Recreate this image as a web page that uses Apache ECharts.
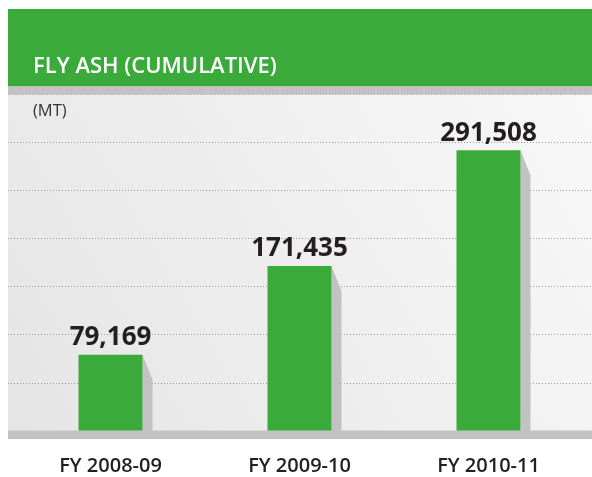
<!DOCTYPE html>
<html>
<head>
<meta charset="utf-8">
<script src="https://cdn.jsdelivr.net/npm/echarts@6/dist/echarts.min.js"></script>
<style>
  html, body { margin: 0; padding: 0; background: #ffffff; }
  #chart { width: 592px; height: 477px; }
</style>
</head>
<body>
<div id="chart"></div>
<script>
// Fly ash utilisation, cumulative, in metric tonnes
const categories = ['FY 2008-09', 'FY 2009-10', 'FY 2010-11'];
const flyAshValues = [79169, 171435, 291508];
const yTicks = [0, 50000, 100000, 150000, 200000, 250000, 300000, 350000];

const GREEN = '#3aab3b';
const STRIP = '#c2c2c2';
const BAR_W = 64;
const TOP = 94, BOTTOM = 46;

const chart = echarts.init(document.getElementById('chart'), null, { renderer: 'canvas' });

const yMin = yTicks[0];
const yMax = yTicks[yTicks.length - 1];
const yStep = yTicks[1] - yTicks[0];

chart.setOption({
  animation: false,
  grid: [
    // full-width grid carrying the dotted guide lines
    { left: 8, right: 0, top: TOP, bottom: BOTTOM },
    // inner grid holding the bars
    { left: 16, right: 9, top: TOP, bottom: BOTTOM }
  ],
  xAxis: [
    { gridIndex: 0, type: 'value', show: false, min: 0, max: 1 },
    {
      gridIndex: 1, type: 'category', data: categories,
      axisLine: { show: false }, axisTick: { show: false },
      axisLabel: {
        margin: 25, fontSize: 20, fontWeight: 600, color: '#231f20',
        fontFamily: 'Open Sans'
      }
    }
  ],
  yAxis: [
    {
      gridIndex: 0, type: 'value', min: yMin, max: yMax, interval: yStep,
      axisLine: { show: false }, axisTick: { show: false }, axisLabel: { show: false },
      splitLine: { lineStyle: { color: '#999999', width: 1, type: [1, 2] } }
    },
    {
      gridIndex: 1, type: 'value', min: yMin, max: yMax, interval: yStep,
      show: false, splitLine: { show: false }
    }
  ],
  graphic: [
    // header band
    { type: 'rect', z: 50, shape: { x: 8, y: 9, width: 584, height: 77 }, style: { fill: GREEN } },
    {
      type: 'text', z: 51, x: 33, y: 56,
      style: {
        text: 'FLY ASH (CUMULATIVE)', fill: '#ffffff',
        font: '600 22px "Open Sans"'
      }
    },
    { type: 'rect', z: 50, shape: { x: 8, y: 86, width: 584, height: 8.5 }, style: { fill: STRIP } },
    // plot backdrop
    {
      type: 'rect', z: -10, shape: { x: 8, y: 94, width: 584, height: 337 },
      style: {
        fill: new echarts.graphic.LinearGradient(1, 0, 0, 1, [
          { offset: 0, color: '#f8f8f8' },
          { offset: 1, color: '#e5e5e5' }
        ])
      }
    },
    // base strip
    { type: 'rect', z: 50, shape: { x: 8, y: 430.5, width: 584, height: 8.5 }, style: { fill: STRIP } },
    {
      type: 'text', z: 51, x: 33, y: 103,
      style: { text: '(MT)', fill: '#333333', font: '16.5px "Open Sans"' }
    }
  ],
  series: [
    {
      // drop shadow on the right side of each bar
      type: 'custom', xAxisIndex: 1, yAxisIndex: 1, z: 1,
      data: flyAshValues.map((v, i) => [i, v]),
      renderItem: function (params, api) {
        const top = api.coord([api.value(0), api.value(1)]);
        const base = api.coord([api.value(0), 0]);
        const r = top[0] + BAR_W / 2;
        return {
          type: 'polygon',
          shape: { points: [[r, top[1]], [r + 10, top[1] + 25], [r + 10, base[1]], [r, base[1]]] },
          style: { fill: STRIP }
        };
      }
    },
    {
      type: 'bar', xAxisIndex: 1, yAxisIndex: 1, z: 2,
      data: flyAshValues, barWidth: BAR_W,
      itemStyle: { color: GREEN },
      label: {
        show: true, position: 'top', distance: 4,
        formatter: p => p.value.toLocaleString('en-US'),
        fontSize: 26, fontWeight: 700, color: '#231f20', fontFamily: 'Open Sans'
      }
    }
  ]
});
</script>
</body>
</html>
